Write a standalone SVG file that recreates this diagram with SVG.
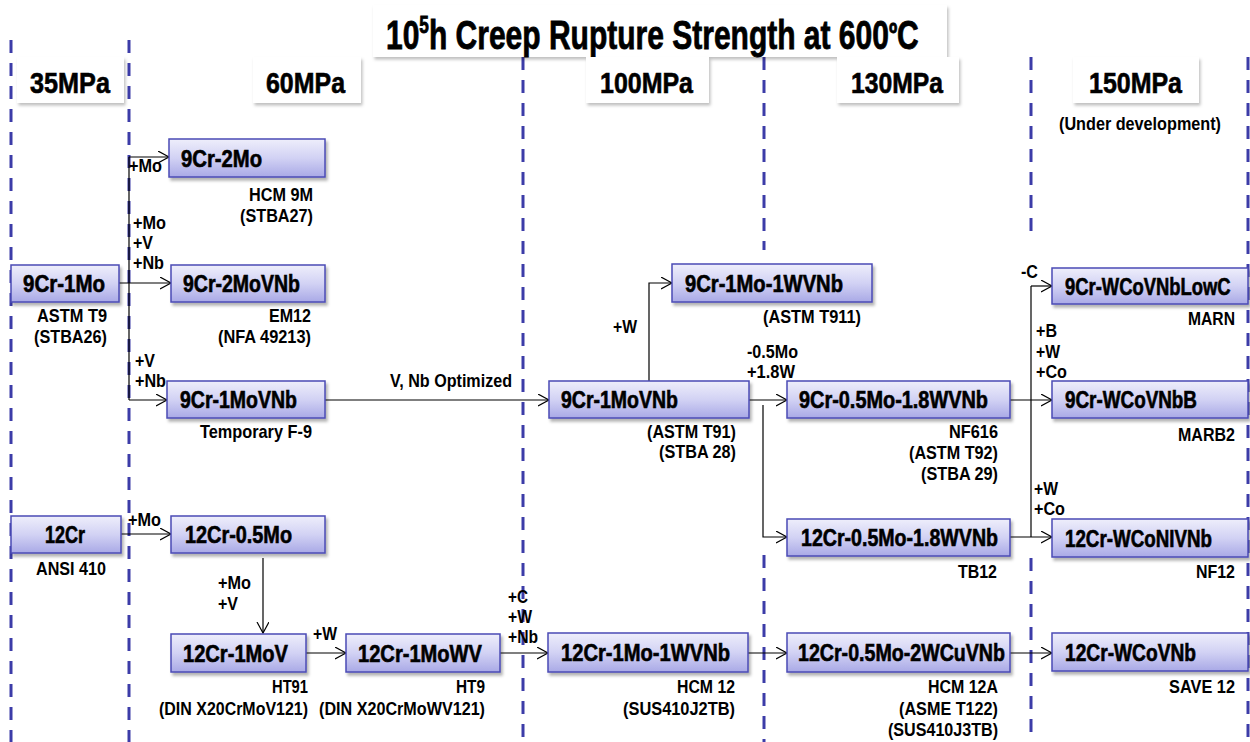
<svg xmlns="http://www.w3.org/2000/svg" width="1250" height="742" viewBox="0 0 1250 742">
<style>
text{font-family:"Liberation Sans",Arial,sans-serif;fill:#000}
.node rect{fill:url(#ng);stroke:#4b4bb5;stroke-width:1.5;filter:url(#sh)}
.nt{font-size:23px;font-weight:bold;stroke:#000;stroke-width:0.6}
.hdr rect{fill:#fff;filter:url(#sh2)}
.ht{font-size:29px;font-weight:bold;stroke:#000;stroke-width:0.6}
.lbl{font-size:18.5px;font-weight:bold}
.end{text-anchor:end}
.dash{stroke:#3c3ca8;stroke-width:3;stroke-dasharray:13 10;fill:none}
.conn path{fill:none;stroke:#000;stroke-width:1.2}
.arr{marker-end:url(#ah)}
</style>
<defs>
<linearGradient id="ng" x1="0" y1="0" x2="0" y2="1">
<stop offset="0" stop-color="#eeeefb"/>
<stop offset="0.5" stop-color="#d2d2f4"/>
<stop offset="1" stop-color="#a9a9e6"/>
</linearGradient>
<filter id="sh" x="-10%" y="-20%" width="120%" height="150%">
<feDropShadow dx="2" dy="3" stdDeviation="1.5" flood-color="#000" flood-opacity="0.3"/>
</filter>
<filter id="sh2" x="-10%" y="-20%" width="120%" height="150%">
<feDropShadow dx="1.5" dy="2.5" stdDeviation="1.5" flood-color="#000" flood-opacity="0.25"/>
</filter>
<marker id="ah" markerUnits="userSpaceOnUse" markerWidth="14" markerHeight="14" refX="11" refY="6" orient="auto">
<path d="M0,0 L11,6 L0,12" fill="none" stroke="#000" stroke-width="1.2"/>
</marker>
</defs>
<rect width="1250" height="742" fill="#fff"/>

<g id="columns">
<path class="dash" d="M11,40 V742"/>
<path class="dash" d="M129,40 V742"/>
<path class="dash" d="M523,57 V742"/>
<path class="dash" d="M764,57 V250 M764,555 V742"/>
<path class="dash" d="M1031,57 V240 M1031,558 V742"/>
<path class="dash" d="M1248,57 V742"/>
</g>

<g id="title" class="hdr">
<rect x="373" y="5" width="574" height="52"/>
<text class="ht" transform="translate(386,49) scale(0.75,1)" style="font-size:40px;stroke-width:0.8">10<tspan style="font-size:23px" dy="-16">5</tspan><tspan dy="16">h Creep Rupture Strength at 600</tspan><tspan style="font-size:30px" dy="-5">º</tspan><tspan dy="5">C</tspan></text>
</g>

<g id="h35" class="hdr"><rect x="17" y="57" width="107" height="46"/><text class="ht" x="30" y="93" textLength="80" lengthAdjust="spacingAndGlyphs">35MPa</text></g>
<g id="h60" class="hdr"><rect x="253" y="57" width="108" height="46"/><text class="ht" x="266" y="93" textLength="79" lengthAdjust="spacingAndGlyphs">60MPa</text></g>
<g id="h100" class="hdr"><rect x="586" y="57" width="123" height="46"/><text class="ht" x="600" y="93" textLength="93" lengthAdjust="spacingAndGlyphs">100MPa</text></g>
<g id="h130" class="hdr"><rect x="837" y="57" width="122" height="46"/><text class="ht" x="851" y="93" textLength="92" lengthAdjust="spacingAndGlyphs">130MPa</text></g>
<g id="h150" class="hdr"><rect x="1073" y="57" width="126" height="46"/><text class="ht" x="1089" y="93" textLength="93" lengthAdjust="spacingAndGlyphs">150MPa</text></g>
<text class="lbl" x="1059" y="130" textLength="162" lengthAdjust="spacingAndGlyphs">(Under development)</text>

<g id="connectors" class="conn">
<path d="M119,283 H129 M129,157 V400"/>
<path class="arr" d="M129,157 H169"/>
<path class="arr" d="M129,283 H171"/>
<path class="arr" d="M129,400 H167"/>
<path class="arr" d="M121,534 H171"/>
<path class="arr" d="M263,558 V633"/>
<path class="arr" d="M306,653 H346"/>
<path class="arr" d="M500,653 H548"/>
<path class="arr" d="M325,400 H549"/>
<path class="arr" d="M649,381 V283 H672"/>
<path class="arr" d="M749,400 H787"/>
<path class="arr" d="M763,405 V537 H787"/>
<path class="arr" d="M1010,400 H1052"/>
<path d="M1031,286 V537"/>
<path class="arr" d="M1031,286 H1052"/>
<path class="arr" d="M1010,537 H1052"/>
<path class="arr" d="M746,653 H787"/>
<path class="arr" d="M1010,653 H1052"/>
</g>

<g id="connector-labels">
<text class="lbl" x="129" y="172" textLength="33" lengthAdjust="spacingAndGlyphs">+Mo</text>
<text class="lbl" x="133" y="229" textLength="33" lengthAdjust="spacingAndGlyphs">+Mo</text><text class="lbl" x="133" y="249" textLength="20" lengthAdjust="spacingAndGlyphs">+V</text><text class="lbl" x="133" y="269" textLength="31" lengthAdjust="spacingAndGlyphs">+Nb</text>
<text class="lbl" x="135" y="367" textLength="20" lengthAdjust="spacingAndGlyphs">+V</text><text class="lbl" x="135" y="387" textLength="31" lengthAdjust="spacingAndGlyphs">+Nb</text>
<text class="lbl" x="390" y="387" textLength="122" lengthAdjust="spacingAndGlyphs">V, Nb Optimized</text>
<text class="lbl" x="613" y="333" textLength="24" lengthAdjust="spacingAndGlyphs">+W</text>
<text class="lbl" x="747" y="358" textLength="51" lengthAdjust="spacingAndGlyphs">-0.5Mo</text><text class="lbl" x="747" y="378" textLength="48" lengthAdjust="spacingAndGlyphs">+1.8W</text>
<text class="lbl" x="1021" y="278" textLength="17" lengthAdjust="spacingAndGlyphs">-C</text>
<text class="lbl" x="1036" y="337" textLength="21" lengthAdjust="spacingAndGlyphs">+B</text><text class="lbl" x="1036" y="358" textLength="24" lengthAdjust="spacingAndGlyphs">+W</text><text class="lbl" x="1036" y="378" textLength="31" lengthAdjust="spacingAndGlyphs">+Co</text>
<text class="lbl" x="1034" y="495" textLength="24" lengthAdjust="spacingAndGlyphs">+W</text><text class="lbl" x="1034" y="515" textLength="31" lengthAdjust="spacingAndGlyphs">+Co</text>
<text class="lbl" x="128" y="526" textLength="33" lengthAdjust="spacingAndGlyphs">+Mo</text>
<text class="lbl" x="218" y="589" textLength="33" lengthAdjust="spacingAndGlyphs">+Mo</text><text class="lbl" x="218" y="610" textLength="20" lengthAdjust="spacingAndGlyphs">+V</text>
<text class="lbl" x="313" y="640" textLength="24" lengthAdjust="spacingAndGlyphs">+W</text>
<text class="lbl" x="508" y="603" textLength="20" lengthAdjust="spacingAndGlyphs">+C</text><text class="lbl" x="508" y="623" textLength="24" lengthAdjust="spacingAndGlyphs">+W</text><text class="lbl" x="508" y="643" textLength="30" lengthAdjust="spacingAndGlyphs">+Nb</text>
</g>

<g id="n-9Cr-2Mo" class="node"><rect x="169" y="139" width="156" height="38"/><text class="nt" x="181" y="167" textLength="81" lengthAdjust="spacingAndGlyphs">9Cr-2Mo</text>
<text class="lbl end" x="313" y="201" textLength="64" lengthAdjust="spacingAndGlyphs">HCM 9M</text><text class="lbl end" x="313" y="222" textLength="73" lengthAdjust="spacingAndGlyphs">(STBA27)</text></g>
<g id="n-9Cr-1Mo" class="node"><rect x="11" y="265" width="108" height="37"/><text class="nt" x="23" y="292" textLength="82" lengthAdjust="spacingAndGlyphs">9Cr-1Mo</text>
<text class="lbl" x="37" y="322" textLength="70" lengthAdjust="spacingAndGlyphs">ASTM T9</text><text class="lbl" x="34" y="343" textLength="73" lengthAdjust="spacingAndGlyphs">(STBA26)</text></g>
<g id="n-9Cr-2MoVNb" class="node"><rect x="171" y="265" width="154" height="37"/><text class="nt" x="183" y="292" textLength="117" lengthAdjust="spacingAndGlyphs">9Cr-2MoVNb</text>
<text class="lbl end" x="311" y="322" textLength="42" lengthAdjust="spacingAndGlyphs">EM12</text><text class="lbl end" x="311" y="343" textLength="93" lengthAdjust="spacingAndGlyphs">(NFA 49213)</text></g>
<g id="n-9Cr-1MoVNb-a" class="node"><rect x="167" y="381" width="158" height="37"/><text class="nt" x="180" y="408" textLength="117" lengthAdjust="spacingAndGlyphs">9Cr-1MoVNb</text>
<text class="lbl end" x="312" y="438" textLength="112" lengthAdjust="spacingAndGlyphs">Temporary F-9</text></g>
<g id="n-9Cr-1Mo-1WVNb" class="node"><rect x="672" y="264" width="200" height="38"/><text class="nt" x="685" y="292" textLength="158" lengthAdjust="spacingAndGlyphs">9Cr-1Mo-1WVNb</text>
<text class="lbl end" x="861" y="323" textLength="98" lengthAdjust="spacingAndGlyphs">(ASTM T911)</text></g>
<g id="n-9Cr-1MoVNb-b" class="node"><rect x="549" y="381" width="200" height="37"/><text class="nt" x="561" y="408" textLength="117" lengthAdjust="spacingAndGlyphs">9Cr-1MoVNb</text>
<text class="lbl end" x="736" y="438" textLength="89" lengthAdjust="spacingAndGlyphs">(ASTM T91)</text><text class="lbl end" x="736" y="458" textLength="77" lengthAdjust="spacingAndGlyphs">(STBA 28)</text></g>
<g id="n-9Cr-0.5Mo-1.8WVNb" class="node"><rect x="787" y="381" width="223" height="37"/><text class="nt" x="799" y="408" textLength="189" lengthAdjust="spacingAndGlyphs">9Cr-0.5Mo-1.8WVNb</text>
<text class="lbl end" x="998" y="438" textLength="49" lengthAdjust="spacingAndGlyphs">NF616</text><text class="lbl end" x="998" y="459" textLength="89" lengthAdjust="spacingAndGlyphs">(ASTM T92)</text><text class="lbl end" x="998" y="480" textLength="77" lengthAdjust="spacingAndGlyphs">(STBA 29)</text></g>
<g id="n-12Cr-0.5Mo-1.8WVNb" class="node"><rect x="787" y="519" width="223" height="37"/><text class="nt" x="801" y="546" textLength="197" lengthAdjust="spacingAndGlyphs">12Cr-0.5Mo-1.8WVNb</text>
<text class="lbl end" x="997" y="578" textLength="39" lengthAdjust="spacingAndGlyphs">TB12</text></g>
<g id="n-9Cr-WCoVNbLowC" class="node"><rect x="1052" y="268" width="196" height="36"/><text class="nt" transform="translate(1065,295) scale(0.8,1)">9Cr-WCoVNbLowC</text>
<text class="lbl end" x="1235" y="325" textLength="47" lengthAdjust="spacingAndGlyphs">MARN</text></g>
<g id="n-9Cr-WCoVNbB" class="node"><rect x="1052" y="381" width="196" height="37"/><text class="nt" x="1065" y="408" textLength="132" lengthAdjust="spacingAndGlyphs">9Cr-WCoVNbB</text>
<text class="lbl end" x="1235" y="441" textLength="57" lengthAdjust="spacingAndGlyphs">MARB2</text></g>
<g id="n-12Cr-WCoNIVNb" class="node"><rect x="1052" y="519" width="196" height="38"/><text class="nt" x="1065" y="547" textLength="147" lengthAdjust="spacingAndGlyphs">12Cr-WCoNIVNb</text>
<text class="lbl end" x="1235" y="578" textLength="39" lengthAdjust="spacingAndGlyphs">NF12</text></g>
<g id="n-12Cr-WCoVNb" class="node"><rect x="1052" y="633" width="196" height="38"/><text class="nt" x="1065" y="661" textLength="131" lengthAdjust="spacingAndGlyphs">12Cr-WCoVNb</text>
<text class="lbl end" x="1235" y="693" textLength="66" lengthAdjust="spacingAndGlyphs">SAVE 12</text></g>
<g id="n-12Cr" class="node"><rect x="11" y="516" width="110" height="37"/><text class="nt" x="45" y="543" textLength="40" lengthAdjust="spacingAndGlyphs">12Cr</text>
<text class="lbl" x="36" y="575" textLength="70" lengthAdjust="spacingAndGlyphs">ANSI 410</text></g>
<g id="n-12Cr-0.5Mo" class="node"><rect x="171" y="516" width="154" height="37"/><text class="nt" x="185" y="543" textLength="107" lengthAdjust="spacingAndGlyphs">12Cr-0.5Mo</text></g>
<g id="n-12Cr-1MoV" class="node"><rect x="171" y="634" width="135" height="38"/><text class="nt" x="183" y="662" textLength="105" lengthAdjust="spacingAndGlyphs">12Cr-1MoV</text>
<text class="lbl end" x="308" y="693" textLength="36" lengthAdjust="spacingAndGlyphs">HT91</text><text class="lbl end" x="308" y="715" textLength="149" lengthAdjust="spacingAndGlyphs">(DIN X20CrMoV121)</text></g>
<g id="n-12Cr-1MoWV" class="node"><rect x="346" y="634" width="154" height="38"/><text class="nt" x="358" y="662" textLength="124" lengthAdjust="spacingAndGlyphs">12Cr-1MoWV</text>
<text class="lbl end" x="485" y="693" textLength="29" lengthAdjust="spacingAndGlyphs">HT9</text><text class="lbl end" x="485" y="715" textLength="166" lengthAdjust="spacingAndGlyphs">(DIN X20CrMoWV121)</text></g>
<g id="n-12Cr-1Mo-1WVNb" class="node"><rect x="548" y="633" width="200" height="39"/><text class="nt" x="561" y="661" textLength="169" lengthAdjust="spacingAndGlyphs">12Cr-1Mo-1WVNb</text>
<text class="lbl end" x="735" y="693" textLength="58" lengthAdjust="spacingAndGlyphs">HCM 12</text><text class="lbl end" x="735" y="715" textLength="112" lengthAdjust="spacingAndGlyphs">(SUS410J2TB)</text></g>
<g id="n-12Cr-0.5Mo-2WCuVNb" class="node"><rect x="787" y="633" width="223" height="39"/><text class="nt" x="798" y="661" textLength="207" lengthAdjust="spacingAndGlyphs">12Cr-0.5Mo-2WCuVNb</text>
<text class="lbl end" x="998" y="693" textLength="70" lengthAdjust="spacingAndGlyphs">HCM 12A</text><text class="lbl end" x="998" y="715" textLength="99" lengthAdjust="spacingAndGlyphs">(ASME T122)</text><text class="lbl end" x="998" y="736" textLength="110" lengthAdjust="spacingAndGlyphs">(SUS410J3TB)</text></g>
</svg>
